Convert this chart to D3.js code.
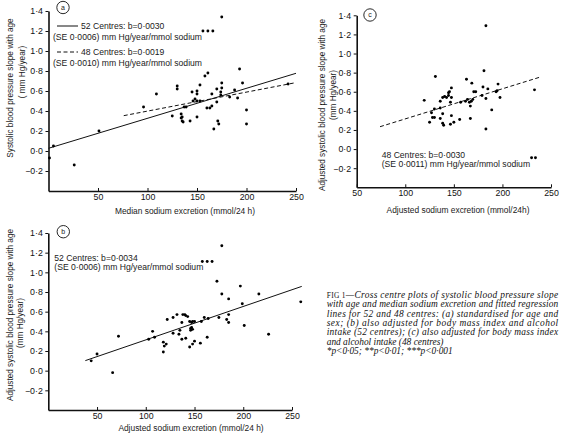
<!DOCTYPE html>
<html>
<head>
<meta charset="utf-8">
<script src="https://cdn.jsdelivr.net/npm/d3@7"></script>
<style>
  body { margin: 0; background: #fff; }
  svg { display: block; }
  .tick text { font-family: "Liberation Sans", Arial, sans-serif; font-size: 8.8px; fill: #111; }
  .tick line { stroke: #111; stroke-width: 1; }
  .domain { stroke: #111; stroke-width: 1.6; }
  .lab { font-family: "Liberation Sans", Arial, sans-serif; fill: #1a1a1a; }
  .cap { font-family: "Liberation Serif", "Times New Roman", serif; font-style: italic; font-size: 9.4px; fill: #111; }
</style>
</head>
<body>
<div id="chart"></div>
<script>
// values: [sodium excretion, BP slope]
const pointsA = [
  [1, -0.07], [5, 0.05], [26, -0.14], [51, 0.20], [96, 0.44], [109, 0.57], [125, 0.35],
  [130, 0.65], [130, 0.62], [134, 0.37], [134, 0.33], [135, 0.30], [136, 0.29], [135, 0.34],
  [137, 0.44], [139, 0.44], [143, 0.30], [145, 0.59], [146, 0.50], [148, 0.52], [150, 0.60],
  [150, 0.57], [150, 0.50], [150, 0.34], [153, 0.66], [153, 0.50], [156, 1.20], [158, 0.75],
  [160, 0.43], [161, 0.78], [161, 1.20], [163, 0.43], [165, 0.57], [165, 0.45], [166, 1.20],
  [167, 0.22], [170, 0.62], [170, 0.49], [171, 0.30], [172, 0.27], [174, 0.59], [174, 0.56],
  [175, 0.68], [175, 0.63], [175, 1.34], [183, 0.54], [188, 0.61], [191, 0.53], [193, 0.82],
  [196, 0.68], [200, 0.41], [200, 0.27], [242, 0.67]
];
const pointsB = [
  [44, 0.10], [50, 0.17], [66, -0.02], [72, 0.35], [103, 0.32], [107, 0.40], [109, 0.34],
  [118, 0.29], [121, 0.27], [119, 0.25], [118, 0.19], [122, 0.52], [128, 0.54], [128, 0.38],
  [132, 0.57], [134, 0.37], [135, 0.41], [137, 0.49], [137, 0.32], [138, 0.57], [140, 0.57],
  [141, 0.56], [141, 0.33], [143, 0.55], [145, 0.50], [145, 0.24], [146, 0.43], [146, 0.41],
  [147, 0.49], [147, 0.44], [148, 0.50], [148, 0.42], [148, 0.27], [150, 0.50], [150, 0.30],
  [156, 0.28], [157, 0.50], [158, 1.11], [160, 0.54], [163, 1.11], [163, 0.34], [164, 0.53],
  [168, 1.11], [173, 0.91], [175, 0.54], [178, 0.78], [178, 1.27], [183, 0.52], [185, 0.57],
  [185, 0.49], [185, 0.73], [197, 0.86], [199, 0.68], [201, 0.46], [216, 0.78], [226, 0.37],
  [259, 0.70]
];
const pointsC = [
  [119.5, 0.51], [125, 0.28], [127, 0.38], [128, 0.33], [130, 0.33], [130, 0.42], [131, 0.76],
  [136, 0.32], [136, 0.43], [136, 0.50], [138.5, 0.37], [138.5, 0.27], [139.5, 0.25], [138.5, 0.54],
  [140.5, 0.55], [142.5, 0.54], [144.5, 0.56], [144.5, 0.59], [145.5, 0.60], [146.5, 0.49],
  [146.5, 0.26], [147.5, 0.64], [147.5, 0.54], [147.5, 0.35], [150, 0.28], [156, 0.31],
  [157, 0.49], [162, 0.50], [163, 0.73], [164, 0.52], [166, 0.49], [167, 0.45], [167, 0.32],
  [168, 0.50], [168.5, 0.69], [169.5, 0.52], [170.5, 0.60], [172.5, 0.60], [179, 0.56],
  [180, 0.65], [181, 0.82], [183, 0.53], [183, 0.21], [183, 1.29], [185, 0.63], [189, 0.41],
  [193.5, 0.60], [194.5, 0.61], [195.5, 0.68], [197.5, 0.54], [233, 0.62], [230, -0.09],
  [234, -0.09]
];

// fitted regression lines: intercept a, slope b, drawn over [from, to]
const fitA52 = { a: 0.027, b: 0.0030, from: 0, to: 250 };
const fitA48 = { a: 0.209, b: 0.0019, from: 76, to: 250 };
const fitB52 = { a: -0.027, b: 0.0034, from: 38, to: 260 };
const fitC48 = { a: 0.001, b: 0.00315, from: 74, to: 238 };

const yTicks = [-0.2, 0, 0.2, 0.4, 0.6, 0.8, 1.0, 1.2, 1.4];
const xTicksAB = [50, 100, 150, 200, 250];
const xTicksC = [50, 100, 150, 200, 250];

const captionLines = [
  "\u2014Cross centre plots of systolic blood pressure slope",
  "with age and median sodium excretion and fitted regression",
  "lines for 52 and 48 centres: (a) standardised for age and",
  "sex; (b) also adjusted for body mass index and alcohol",
  "intake (52 centres); (c) also adjusted for body mass index",
  "and alcohol intake (48 centres)",
  "*p<0\u00b705; **p<0\u00b701; ***p<0\u00b7001"
];

let svg = d3.select("#chart")
    .append("svg")
    .attr("width", 567)
    .attr("height", 439);

let fmt = v => d3.format(".1f")(v).replace(".", "\u00b7").replace("-", "\u2212");

function drawPanel (p) {

    let xScale = d3.scaleLinear().domain(p.xDomain).range(p.xRange);
    let yScale = d3.scaleLinear().domain([-0.4, 1.4]).range(p.yRange);

    let g = svg.append("g").attr("id", "panel-" + p.id);

    g.append("g")
        .attr("transform", "translate(" + p.xRange[0] + ",0)")
        .call(d3.axisLeft(yScale).tickValues(yTicks).tickSize(3).tickPadding(2.5)
              .tickSizeOuter(0).tickFormat(fmt));

    g.append("g")
        .attr("transform", "translate(0," + p.yRange[0] + ")")
        .call(d3.axisBottom(xScale).tickValues(p.xTicks).tickSize(-3).tickPadding(2.5)
              .tickSizeOuter(0).tickFormat(d3.format("d")));

    // regression lines
    let line = d3.line().x(d => xScale(d[0])).y(d => yScale(d[1]));
    p.fits.forEach(f => {
        g.append("path")
            .attr("d", line([[f.from, f.a + f.b * f.from], [f.to, f.a + f.b * f.to]]))
            .attr("fill", "none")
            .attr("stroke", "#111")
            .attr("stroke-width", 1)
            .attr("stroke-dasharray", f.dashed ? "4,2.5" : null);
    });

    g.selectAll("circle.pt")
        .data(p.points)
        .join("circle")
        .attr("class", "pt")
        .attr("cx", d => xScale(d[0]))
        .attr("cy", d => yScale(d[1]))
        .attr("r", 1.45)
        .attr("fill", "#000");

    // circled panel letter
    g.append("circle")
        .attr("cx", p.badge[0]).attr("cy", p.badge[1]).attr("r", 6.2)
        .attr("fill", "#fff").attr("stroke", "#111").attr("stroke-width", 0.9);
    g.append("text").attr("class", "lab")
        .attr("x", p.badge[0]).attr("y", p.badge[1] + 2.4)
        .attr("text-anchor", "middle").attr("font-size", "7px")
        .text(p.id);

    g.append("text").attr("class", "lab")
        .attr("x", p.xTitle[0]).attr("y", p.xTitle[1])
        .attr("text-anchor", "middle").attr("font-size", "8.4px")
        .text(p.xLabel);

    p.yLabels.forEach((t, i) => {
        g.append("text").attr("class", "lab")
            .attr("transform", "translate(" + p.yTitle[i][0] + "," + p.yTitle[i][1] + ")rotate(-90)")
            .attr("text-anchor", "middle").attr("font-size", "8.2px")
            .text(t);
    });

    p.notes.forEach(n => {
        g.append("text").attr("class", "lab")
            .attr("x", n.x).attr("y", n.y)
            .attr("font-size", "8.6px")
            .text(n.text);
    });

    if (p.keys) {
        p.keys.forEach(k => {
            g.append("line")
                .attr("x1", k.x1).attr("x2", k.x2).attr("y1", k.y).attr("y2", k.y)
                .attr("stroke", "#111").attr("stroke-width", 1)
                .attr("stroke-dasharray", k.dashed ? "4,2.5" : null);
        });
    }
}

let panels = [
    {
        id: "a", points: pointsA, xDomain: [0, 250], xRange: [48.5, 296], yRange: [191, 11],
        xTicks: xTicksAB,
        fits: [fitA52, Object.assign({dashed: true}, fitA48)],
        badge: [63, 7.5],
        xLabel: "Median sodium excretion (mmol/24 h)", xTitle: [185, 213.5],
        yLabels: ["Systolic blood pressure slope with age", "( mm Hg/year)"],
        yTitle: [[13, 88], [24.5, 72]],
        keys: [{x1: 57, x2: 78, y: 26}, {x1: 57, x2: 78, y: 52, dashed: true}],
        notes: [
            {x: 81, y: 29, text: "52 Centres: b=0\u00b70030"},
            {x: 53, y: 40, text: "(SE 0\u00b70006) mm Hg/year/mmol sodium"},
            {x: 81, y: 55, text: "48 Centres: b=0\u00b70019"},
            {x: 53, y: 65.5, text: "(SE 0\u00b70010) mm Hg/year/mmol sodium"}
        ]
    },
    {
        id: "b", points: pointsB, xDomain: [0, 250], xRange: [48.3, 292], yRange: [410, 233],
        xTicks: xTicksAB,
        fits: [fitB52],
        badge: [63.3, 231.7],
        xLabel: "Adjusted sodium excretion (mmol/24 h)", xTitle: [191, 431],
        yLabels: ["Adjusted systolic blood pressure slope with age", "(mm Hg/year)"],
        yTitle: [[13, 315], [23, 323]],
        notes: [
            {x: 54.3, y: 261, text: "52 Centres: b=0\u00b70034"},
            {x: 54.3, y: 270, text: "(SE 0\u00b70006) mm Hg/year/mmol sodium"}
        ]
    },
    {
        id: "c", points: pointsC, xDomain: [50, 250], xRange: [356.7, 551], yRange: [187.3, 15.3],
        xTicks: xTicksC,
        fits: [Object.assign({dashed: true}, fitC48)],
        badge: [370, 15],
        xLabel: "Adjusted sodium excretion (mmol/24h)", xTitle: [458, 213],
        yLabels: ["Adjusted systolic blood pressure slope with age", "(mm Hg/year)"],
        yTitle: [[324.5, 105], [336, 95]],
        notes: [
            {x: 381.7, y: 157.5, text: "48 Centres: b=0\u00b70030"},
            {x: 381.7, y: 166.5, text: "(SE 0\u00b70011) mm Hg/year/mmol sodium"}
        ]
    }
];

panels.forEach(drawPanel);

// caption, justified lines except the last two
let cap = svg.append("g").attr("id", "caption");
captionLines.forEach((t, i) => {
    let txt = cap.append("text")
        .attr("class", "cap")
        .attr("x", 326.7)
        .attr("y", 298 + i * 9.3);
    if (i === 0) {
        txt.append("tspan").attr("font-style", "normal").attr("font-size", "7.4px").text("FIG 1");
    }
    txt.append("tspan").text(t);
    if (i < 5) {
        txt.attr("textLength", 231.5).attr("lengthAdjust", "spacing");
    }
});
</script>
</body>
</html>
